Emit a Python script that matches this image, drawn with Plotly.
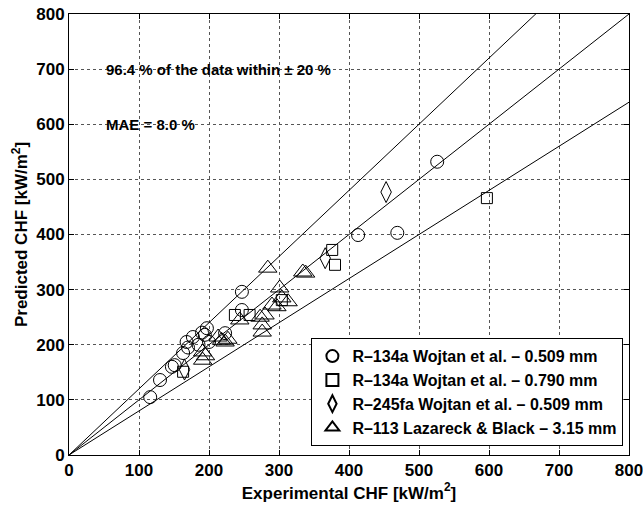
import plotly.graph_objects as go

# Critical heat flux: experimental vs predicted [kW/m^2]
r134a_0509_exp = [116, 130, 147, 151, 163, 168, 170, 177, 185, 190, 194, 197, 200, 223, 247, 247, 413, 469, 526]
r134a_0509_pred = [105, 136, 160, 163, 185, 205, 195, 214, 200, 222, 218, 230, 205, 221, 296, 263, 399, 403, 532]

r134a_0790_exp = [163, 237, 258, 304, 376, 380, 597]
r134a_0790_pred = [151, 254, 254, 281, 372, 345, 466]

r245fa_0509_exp = [165, 366, 453]
r245fa_0509_pred = [155, 357, 477]

r113_exp = [191, 191, 195, 213, 218, 223, 227, 244, 273, 276, 276, 280, 284, 290, 297, 301, 304, 313, 334, 338]
r113_pred = [172, 187, 180, 214, 208, 205, 210, 245, 250, 236, 223, 254, 339, 272, 269, 303, 285, 278, 332, 330]

series_names = [
    "R\u2013134a Wojtan et al. \u2013 0.509 mm",
    "R\u2013134a Wojtan et al. \u2013 0.790 mm",
    "R\u2013245fa Wojtan et al. \u2013 0.509 mm",
    "R\u2013113 Lazareck & Black \u2013 3.15 mm",
]

tick_vals = [0, 100, 200, 300, 400, 500, 600, 700, 800]
tick_labels = ["0", "100", "200", "300", "400", "500", "600", "700", "800"]

ref_x = [0, 800]
band_factors = [1.2, 1.0, 0.8]

FONT = "Liberation Sans, Arial, Helvetica, sans-serif"


def bold(s):
    return "<b>" + s + "</b>"


fig = go.Figure()

# +20 %, parity and -20 % lines
for k in band_factors:
    fig.add_trace(go.Scatter(
        x=ref_x, y=[k * v for v in ref_x], mode="lines",
        line=dict(color="black", width=1), showlegend=False, hoverinfo="skip",
    ))

marker_specs = [
    (r134a_0509_exp, r134a_0509_pred, "circle-open", 13),
    (r134a_0790_exp, r134a_0790_pred, "square-open", 11),
    (r245fa_0509_exp, r245fa_0509_pred, "diamond-tall-open", 15),
    (r113_exp, r113_pred, "triangle-up-open", 16),
]
for (xs, ys, sym, sz), name in zip(marker_specs, series_names):
    fig.add_trace(go.Scatter(
        x=xs, y=ys, mode="markers", name=bold(name),
        marker=dict(symbol=sym, size=sz, color="black", line=dict(color="black", width=1)),
    ))

axis_common = dict(
    range=[0, 800], tickvals=tick_vals, ticktext=[bold(t) for t in tick_labels],
    showgrid=True, gridcolor="#555555", griddash="dot", gridwidth=1,
    showline=True, linecolor="black", linewidth=1, mirror="ticks",
    ticks="inside", ticklen=5, tickcolor="black",
    zeroline=False, automargin=False, ticklabeloverflow="allow",
    tickfont=dict(family=FONT, size=17, color="black"),
)

title_font = dict(family=FONT, size=17, color="black")

fig.update_layout(
    width=643, height=506,
    margin=dict(l=69, r=14, t=14, b=51),
    paper_bgcolor="white", plot_bgcolor="white",
    xaxis=dict(axis_common, title=dict(text=bold("Experimental CHF [kW/m<sup>2</sup>]"),
                                       font=title_font, standoff=2)),
    yaxis=dict(axis_common, title=dict(text=bold("Predicted CHF [kW/m<sup>2</sup>]"),
                                       font=title_font, standoff=4)),
    legend=dict(
        x=0.99, y=0.02, xanchor="right", yanchor="bottom",
        bgcolor="white", bordercolor="black", borderwidth=1,
        font=dict(family=FONT, size=16, color="black"),
        tracegroupgap=0, itemsizing="constant", itemwidth=30,
    ),
    showlegend=True,
)

fig.add_annotation(x=50, y=700, xref="x", yref="y", xanchor="left", yanchor="middle",
                   text=bold("96.4 % of the data within \u00b1 20 %"), showarrow=False,
                   font=dict(family=FONT, size=15, color="black"))
fig.add_annotation(x=50, y=600, xref="x", yref="y", xanchor="left", yanchor="middle",
                   text=bold("MAE = 8.0 %"), showarrow=False,
                   font=dict(family=FONT, size=15, color="black"))

fig.write_html("out.html")
